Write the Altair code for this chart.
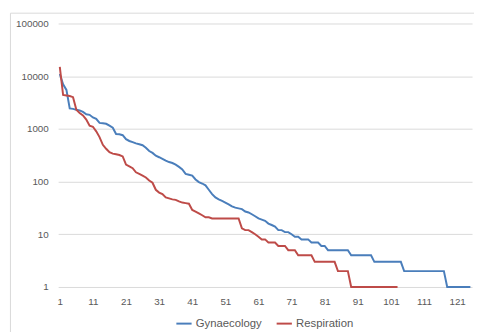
import altair as alt
import pandas as pd

gyn = [11000, 7000, 5500, 2450, 2400, 2300, 2250, 2100, 1900, 1850,
       1650, 1550, 1300, 1280, 1250, 1150, 1050, 800, 790, 760,
       640, 590, 560, 530, 510, 490, 440, 380, 350, 310,
       290, 270, 250, 235, 225, 210, 190, 170, 140, 135,
       130, 110, 98, 92, 85, 70, 58, 50, 46, 43,
       40, 37, 34, 32, 31, 30, 27, 26, 24, 22,
       20, 19, 18, 16, 15, 14, 12, 12, 11, 11,
       10, 9, 9, 8, 8, 8, 7, 7, 7, 6,
       6, 5, 5, 5, 5, 5, 5, 5, 4, 4,
       4, 4, 4, 4, 4, 3, 3, 3, 3, 3,
       3, 3, 3, 3, 2, 2, 2, 2, 2, 2,
       2, 2, 2, 2, 2, 2, 2, 1, 1, 1,
       1, 1, 1, 1, 1]

resp = [15000, 4400, 4300, 4200, 4000, 2300, 2000, 1800, 1500, 1150,
        1100, 900, 700, 500, 420, 360, 340, 330, 320, 300,
        210, 195, 180, 150, 140, 130, 120, 105, 95, 70,
        62, 58, 50, 48, 46, 45, 42, 40, 39, 38,
        29, 27, 25, 23, 21, 21, 20, 20, 20, 20,
        20, 20, 20, 20, 20, 13, 12, 12, 11, 10,
        9, 8, 8, 7, 7, 7, 6, 6, 6, 5,
        5, 5, 4, 4, 4, 4, 4, 3, 3, 3,
        3, 3, 3, 3, 2, 2, 2, 2, 1, 1,
        1, 1, 1, 1, 1, 1, 1, 1, 1, 1,
        1, 1, 1]

series_names = ["Gynaecology", "Respiration"]
series_colors = ["#4A7EBB", "#BE4B48"]
x_ticks = [1, 11, 21, 31, 41, 51, 61, 71, 81, 91, 101, 111, 121]
y_ticks = [1, 10, 100, 1000, 10000, 100000]

rows = []
for name, vals in zip(series_names, [gyn, resp]):
    for i, v in enumerate(vals):
        rows.append({"series": name, "idx": i + 1, "value": v})
df = pd.DataFrame(rows)

FONT = "Liberation Sans"

border = alt.Chart(pd.DataFrame({"a": [0]})).mark_rect(
    fill=None, stroke="#D9D9D9", strokeWidth=1
).encode(
    x=alt.value(-48.5), x2=alt.value(440), y=alt.value(-10.5), y2=alt.value(330)
)

lines = alt.Chart(df).mark_line(strokeWidth=2).encode(
    x=alt.X("idx:Q",
            scale=alt.Scale(domain=[0.5, 125.5], nice=False, zero=False),
            axis=alt.Axis(values=x_ticks, title=None, grid=False, ticks=False,
                          domain=False, labelColor="#595959", labelFontSize=10,
                          labelFont=FONT, labelPadding=10)),
    y=alt.Y("value:Q",
            scale=alt.Scale(type="log", domain=[1, 100000], nice=False),
            axis=alt.Axis(values=y_ticks, format="d", title=None, ticks=False,
                          domain=False, gridColor="#D9D9D9", gridWidth=1,
                          labelColor="#595959", labelFontSize=10, labelFont=FONT,
                          labelPadding=10)),
    color=alt.Color("series:N",
                    scale=alt.Scale(domain=series_names, range=series_colors),
                    legend=alt.Legend(title=None, orient="none", direction="horizontal",
                                      legendX=119, legendY=296,
                                      symbolType="stroke", symbolSize=240,
                                      symbolStrokeWidth=2, labelFontSize=11.5,
                                      labelFont=FONT, labelColor="#595959",
                                      columnPadding=10, labelOffset=3)),
    order="idx:Q",
)

chart = alt.layer(border, lines).properties(
    width=421, height=268,
    autosize=alt.AutoSizeParams(type="none"),
    padding={"left": 51, "top": 13, "right": 2, "bottom": 43},
).configure_view(stroke=None)

chart.save("out.html", embed_options={"renderer": "svg", "actions": False})
